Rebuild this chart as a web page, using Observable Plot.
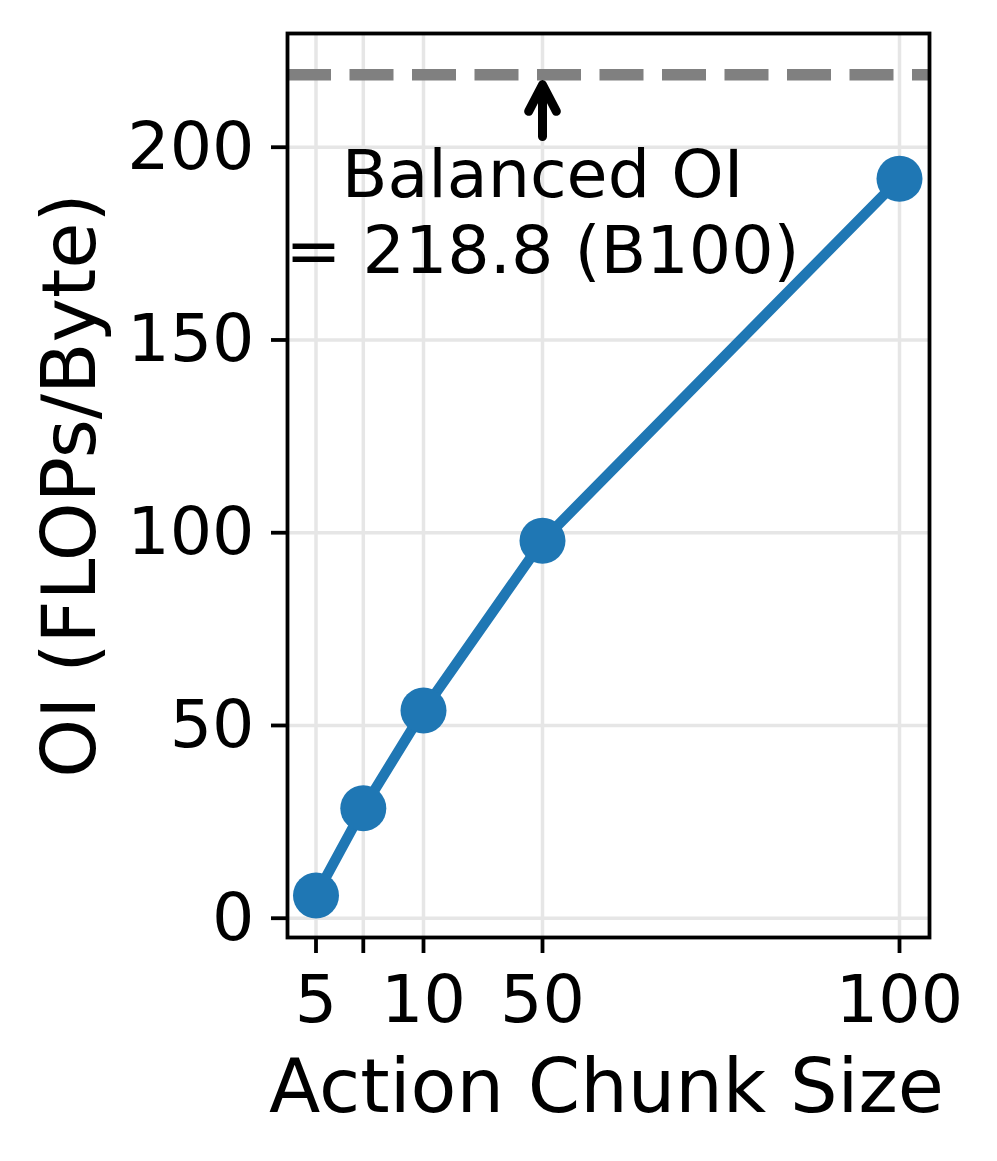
<!DOCTYPE html>
<html>
<head>
<meta charset="utf-8">
<script src="https://cdn.jsdelivr.net/npm/d3@7"></script>
<script src="https://cdn.jsdelivr.net/npm/@observablehq/plot@0.6"></script>
<style>
  html, body { margin: 0; padding: 0; background: #fff; }
  #chart { width: 997px; height: 1161px; }
</style>
</head>
<body>
<div id="chart"></div>
<script>
// ---- data ----
const chunkSizes = [5, 7.2, 10, 50, 100];
const oiValues = [5.9, 28.5, 53.9, 97.9, 191.8];
const xTickValues = [5, 7.2, 10, 50, 100];
const xTickLabels = ["5", "", "10", "50", "100"];
const yTickValues = [0, 50, 100, 150, 200];
const balancedOI = 218.8;
const balancedLabel = "Balanced OI\n= 218.8 (B100)";
const annotationX = 50;
const annotationTextY = 167.5;
const arrowStartY = 195;
const xLabel = "Action Chunk Size";
const yLabel = "OI (FLOPs/Byte)";

const data = chunkSizes.map((c, i) => ({chunk: c, oi: oiValues[i]}));
const tickLabelMap = new Map(xTickValues.map((v, i) => [v, xTickLabels[i]]));

const blue = "#1f77b4";
const gridColor = "#e6e6e6";
const tickFont = 66.7;
const labelFont = 75;

const chart = Plot.plot({
  width: 997,
  height: 1161,
  marginTop: 33,
  marginRight: 68,
  marginBottom: 224,
  marginLeft: 287,
  style: {fontFamily: "'DejaVu Sans', sans-serif", fontSize: tickFont + "px", color: "#000", background: "#fff"},
  x: {type: "linear", domain: [5, 10, 50, 100], range: [315.5, 423, 542, 899], label: null},
  y: {domain: [-5.0, 229.5], label: null},
  marks: [
    Plot.gridX(xTickValues, {stroke: gridColor, strokeOpacity: 1, strokeWidth: 3.5}),
    Plot.gridY(yTickValues, {stroke: gridColor, strokeOpacity: 1, strokeWidth: 3.5}),
    Plot.ruleY([balancedOI], {stroke: "#808080", strokeWidth: 11.5, strokeDasharray: "44,18.5"}),
    Plot.line(data, {x: "chunk", y: "oi", stroke: blue, strokeWidth: 10.4, strokeLinejoin: "round", strokeLinecap: "round"}),
    Plot.dot(data, {x: "chunk", y: "oi", r: 23, fill: blue, stroke: "none"}),
    Plot.arrow([{x: annotationX, y1: arrowStartY, y2: balancedOI}], {
      x1: "x", x2: "x", y1: "y1", y2: "y2",
      stroke: "#000", strokeWidth: 9, headLength: 5, headAngle: 55,
      insetStart: 30, insetEnd: 10, strokeLinecap: "round", strokeLinejoin: "round"
    }),
    Plot.text([balancedLabel], {
      x: () => annotationX, y: () => annotationTextY,
      text: d => d, textAnchor: "middle", lineAnchor: "bottom", lineHeight: 1.125,
      fontSize: tickFont, fill: "#000"
    }),
    Plot.axisX({
      ticks: xTickValues, tickFormat: v => tickLabelMap.get(v) ?? "",
      tickSize: 16, tickPadding: 21, strokeWidth: 3.8, fontSize: tickFont, label: null
    }),
    Plot.axisY({
      ticks: yTickValues, tickSize: 16, tickPadding: 17, strokeWidth: 3.8,
      fontSize: tickFont, label: null
    }),
    Plot.frame({stroke: "#000", strokeWidth: 3.8}),
    Plot.text([xLabel], {
      frameAnchor: "bottom", dy: 174.7, dx: -2, lineAnchor: "bottom", textAnchor: "middle",
      fontSize: labelFont, fill: "#000"
    }),
    Plot.text([yLabel], {
      frameAnchor: "left", dx: -193, rotate: -90, lineAnchor: "bottom", textAnchor: "middle",
      fontSize: labelFont, fill: "#000"
    })
  ]
});
document.getElementById("chart").appendChild(chart);
</script>
</body>
</html>
